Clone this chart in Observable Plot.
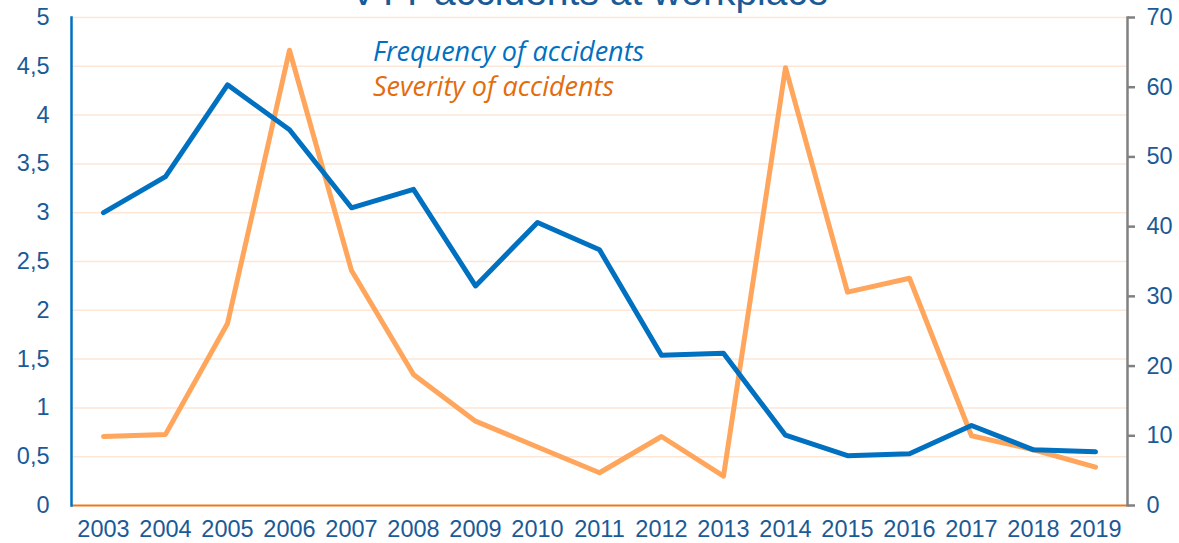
<!DOCTYPE html>
<html>
<head>
<meta charset="utf-8">
<script src="https://cdn.jsdelivr.net/npm/d3@7"></script>
<script src="https://cdn.jsdelivr.net/npm/@observablehq/plot@0.6"></script>
<style>
  html, body { margin: 0; padding: 0; background: #fff; overflow: hidden; }
  #wrap { position: relative; width: 1179px; height: 543px; overflow: hidden; }
  #title { position: absolute; left: 0; width: 1179px; top: -30px; text-align: center; white-space: nowrap;
           font: 39px "Liberation Sans", Arial, sans-serif; color: #1a5a96; }
  .leg { position: absolute; left: 373px; font: italic 27px "Open Sans", sans-serif; white-space: nowrap; }
</style>
</head>
<body>
<div id="wrap">
  <div id="chart"></div>
  <div id="title">VTT accidents at workplace</div>
  <div class="leg" style="top:32px;color:#0070c0">Frequency of accidents</div>
  <div class="leg" style="top:67px;color:#e46c0a">Severity of accidents</div>
</div>
<script>
const years = ["2003","2004","2005","2006","2007","2008","2009","2010","2011","2012","2013","2014","2015","2016","2017","2018","2019"];
const frequency = [3.0, 3.37, 4.31, 3.85, 3.05, 3.24, 2.25, 2.9, 2.62, 1.54, 1.56, 0.72, 0.51, 0.53, 0.82, 0.57, 0.55];
const severity = [9.9, 10.2, 26.1, 65.3, 33.7, 18.8, 12.1, 8.4, 4.7, 9.9, 4.2, 62.8, 30.6, 32.6, 10.0, 8.0, 5.5];
const leftTicks = [0, 0.5, 1, 1.5, 2, 2.5, 3, 3.5, 4, 4.5, 5];
const rightTicks = [0, 10, 20, 30, 40, 50, 60, 70];

const leftMax = 5, rightMax = 70;
const k = leftMax / rightMax;
const freqData = years.map((y, i) => ({year: y, v: frequency[i]}));
const sevData = years.map((y, i) => ({year: y, v: severity[i] * k}));

const fmt = d => String(d).replace(".", ",");
const txt = "#1a5a96";

const chart = Plot.plot({
  width: 1179,
  height: 543,
  marginLeft: 71,
  marginRight: 52,
  marginTop: 17,
  marginBottom: 38,
  style: {fontFamily: "'Liberation Sans', Arial, sans-serif", fontSize: "24px", color: txt, background: "transparent", overflow: "visible"},
  x: {type: "point", domain: years, padding: 0.5, label: null},
  y: {domain: [0, leftMax], label: null},
  marks: [
    Plot.ruleY(leftTicks.filter(d => d > 0), {stroke: "#fde6d6", strokeWidth: 1.5}),
    Plot.axisY(leftTicks, {anchor: "left", tickSize: 0, tickPadding: 22, tickFormat: fmt, fill: txt, fontSize: 23.5, label: null}),
    Plot.axisY(rightTicks.map(d => d * k), {anchor: "right", tickSize: 7, tickPadding: 12, stroke: "#808080", strokeWidth: 2.5,
      tickFormat: d => String(Math.round(d / k)), fill: txt, fontSize: 23.5, label: null}),
    Plot.axisX(years, {tickSize: 0, tickPadding: 15, fill: txt, fontSize: 23.5, label: null}),
    Plot.line(sevData, {x: "year", y: "v", stroke: "#ffa65c", strokeWidth: 5, strokeLinejoin: "round", strokeLinecap: "round"}),
    Plot.line(freqData, {x: "year", y: "v", stroke: "#0070c0", strokeWidth: 5, strokeLinejoin: "round", strokeLinecap: "round"}),
    Plot.ruleY([0], {stroke: "#ec7a1c", strokeWidth: 2}),
    Plot.frame({anchor: "left", stroke: "#0070c0", strokeWidth: 2.5}),
    Plot.frame({anchor: "right", stroke: "#808080", strokeWidth: 2.5})
  ]
});
document.getElementById("chart").appendChild(chart);
</script>
</body>
</html>
